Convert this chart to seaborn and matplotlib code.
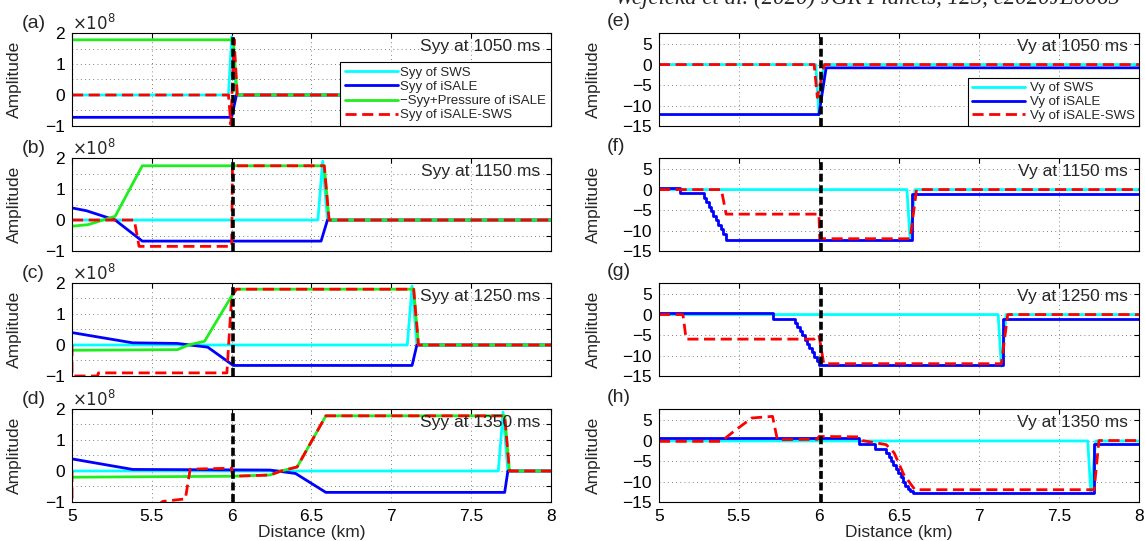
import numpy as np
import matplotlib
matplotlib.use('Agg')
import matplotlib.pyplot as plt
import seaborn as sns

# ---- Syy panels (units of 1e8) ----
times = ['1050', '1150', '1250', '1350']

sws_x_a = [5.0, 5.98, 6.0, 6.03, 8.0]
sws_y_a = [0, 0, 1.88, 0, 0]
isale_x_a = [5.0, 6.0, 6.03, 8.0]
isale_y_a = [-0.72, -0.72, 0, 0]
press_x_a = [5.0, 6.01, 6.035, 8.0]
press_y_a = [1.78, 1.78, 0, 0]
diff_x_a = [5.0, 5.98, 5.995, 6.015, 6.035, 8.0]
diff_y_a = [0, 0, -0.95, 1.8, 0, 0]

sws_x_b = [5.0, 6.54, 6.57, 6.6, 8.0]
sws_y_b = [0, 0, 1.9, 0, 0]
isale_x_b = [5.0, 5.09, 5.27, 5.44, 6.56, 6.6, 8.0]
isale_y_b = [0.39, 0.3, 0.0, -0.68, -0.68, 0, 0]
press_x_b = [5.0, 5.1, 5.27, 5.44, 6.58, 6.61, 8.0]
press_y_b = [-0.2, -0.15, 0.12, 1.75, 1.75, 0, 0]
diff_x_b = [5.0, 5.39, 5.42, 6.0, 6.005, 6.58, 6.61, 8.0]
diff_y_b = [0, 0, -0.85, -0.85, 1.75, 1.75, 0, 0]

sws_x_c = [5.0, 7.1, 7.13, 7.16, 8.0]
sws_y_c = [0, 0, 1.9, 0, 0]
isale_x_c = [5.0, 5.38, 5.66, 5.85, 6.01, 7.13, 7.16, 8.0]
isale_y_c = [0.4, 0.07, 0.05, -0.07, -0.66, -0.66, 0, 0]
press_x_c = [5.0, 5.66, 5.73, 5.83, 6.0, 6.03, 7.14, 7.17, 8.0]
press_y_c = [-0.17, -0.15, 0.0, 0.12, 1.58, 1.8, 1.8, 0, 0]
diff_x_c = [5.0, 5.0, 5.16, 5.165, 5.97, 6.0, 6.03, 7.14, 7.17, 8.0]
diff_y_c = [0, -1.0, -1.0, -0.9, -0.9, 1.58, 1.8, 1.8, 0, 0]

sws_x_d = [5.0, 7.67, 7.7, 7.73, 8.0]
sws_y_d = [0, 0, 1.9, 0, 0]
isale_x_d = [5.0, 5.38, 6.24, 6.4, 6.59, 7.71, 7.73, 8.0]
isale_y_d = [0.39, 0.05, 0.03, -0.08, -0.69, -0.69, 0, 0]
press_x_d = [5.0, 6.0, 6.24, 6.31, 6.41, 6.59, 7.71, 7.74, 8.0]
press_y_d = [-0.2, -0.17, -0.13, 0.0, 0.13, 1.78, 1.78, 0, 0]
diff_x_d = [5.0, 5.0, 5.55, 5.57, 5.71, 5.74, 6.0, 6.005, 6.24, 6.31, 6.41, 6.59, 7.71, 7.74, 8.0]
diff_y_d = [0, -1.05, -1.05, -0.98, -0.9, 0.06, 0.09, -0.17, -0.13, 0.0, 0.13, 1.78, 1.78, 0, 0]

# ---- Vy panels ----
vsws_x_e = [5.0, 5.98, 6.0, 6.03, 8.0]
vsws_y_e = [0, 0, -12.3, 0, 0]
visale_x_e = [5.0, 6.0, 6.045, 8.0]
visale_y_e = [-12.2, -12.2, -0.8, -0.8]
vdiff_x_e = [5.0, 5.97, 5.99, 6.035, 8.0]
vdiff_y_e = [0, 0, -8.0, 0, 0]

vsws_x_f = [5.0, 6.55, 6.57, 6.6, 8.0]
vsws_y_f = [0, 0, -12.4, 0, 0]
visale_x_f = [5.0, 5.13, 5.28, 5.295, 5.31, 5.325, 5.34, 5.355, 5.37, 5.385, 5.40, 5.42, 6.58, 8.0]
visale_y_f = [0.4, -0.9, -2.0, -3.1, -4.2, -5.3, -6.4, -7.5, -8.6, -9.7, -10.8, -12.3, -1.0, -1.0]
vdiff_x_f = [5.0, 5.39, 5.42, 6.0, 6.005, 6.57, 6.61, 8.0]
vdiff_y_f = [0, 0, -6.0, -6.0, -12.0, -12.0, 0, 0]

vsws_x_g = [5.0, 7.12, 7.14, 7.17, 8.0]
vsws_y_g = [0, 0, -12.6, 0, 0]
visale_x_g = [5.0, 5.71, 5.85, 5.865, 5.88, 5.895, 5.91, 5.925, 5.94, 5.955, 5.97, 5.985, 6.0, 7.15, 8.0]
visale_y_g = [0.3, -1.0, -2.0, -3.0, -4.1, -5.1, -6.1, -7.2, -8.2, -9.2, -10.3, -11.3, -12.3, -1.2, -1.2]
vdiff_x_g = [5.0, 5.15, 5.17, 5.97, 6.0, 6.03, 7.14, 7.18, 8.0]
vdiff_y_g = [0, 0, -6.0, -6.0, -5.0, -12.0, -12.0, 0, 0]

vsws_x_h = [5.0, 7.68, 7.7, 7.73, 8.0]
vsws_y_h = [-0.1, -0.1, -13.0, -0.1, -0.1]
visale_x_h = [5.0, 6.25, 6.35, 6.42, 6.435, 6.45, 6.465, 6.48, 6.495, 6.51, 6.525, 6.54, 6.555, 6.57, 6.59, 7.72, 8.0]
visale_y_h = [0.65, -0.8, -2.0, -3.0, -4.0, -5.0, -6.0, -7.0, -8.0, -9.0, -10.0, -11.0, -11.8, -12.4, -12.9, -0.8, -0.8]
vdiff_x_h = [5.0, 5.39, 5.47, 5.58, 5.71, 5.74, 5.99, 6.0, 6.25, 6.27, 6.42, 6.47, 6.53, 6.6, 7.72, 7.75, 8.0]
vdiff_y_h = [-0.2, -0.2, 2.3, 5.5, 5.9, 0.2, 0.3, 1.0, 0.9, 0.0, -1.0, -3.0, -8.3, -12.0, -12.0, 0.0, 0.0]

syy_sets = [
    (sws_x_a, sws_y_a, isale_x_a, isale_y_a, press_x_a, press_y_a, diff_x_a, diff_y_a),
    (sws_x_b, sws_y_b, isale_x_b, isale_y_b, press_x_b, press_y_b, diff_x_b, diff_y_b),
    (sws_x_c, sws_y_c, isale_x_c, isale_y_c, press_x_c, press_y_c, diff_x_c, diff_y_c),
    (sws_x_d, sws_y_d, isale_x_d, isale_y_d, press_x_d, press_y_d, diff_x_d, diff_y_d),
]
vy_sets = [
    (vsws_x_e, vsws_y_e, visale_x_e, visale_y_e, vdiff_x_e, vdiff_y_e),
    (vsws_x_f, vsws_y_f, visale_x_f, visale_y_f, vdiff_x_f, vdiff_y_f),
    (vsws_x_g, vsws_y_g, visale_x_g, visale_y_g, vdiff_x_g, vdiff_y_g),
    (vsws_x_h, vsws_y_h, visale_x_h, visale_y_h, vdiff_x_h, vdiff_y_h),
]

letters_left = ['(a)', '(b)', '(c)', '(d)']
letters_right = ['(e)', '(f)', '(g)', '(h)']
x_ticks = [5, 5.5, 6, 6.5, 7, 7.5, 8]
x_labels = ['5', '5.5', '6', '6.5', '7', '7.5', '8']

CYAN = '#00ffff'
BLUE = '#0000ff'
GREEN = '#1eee1e'
RED = '#ff0000'

sns.set_style('white')
plt.rcParams['font.family'] = ['Liberation Sans', 'DejaVu Sans']
plt.rcParams['axes.unicode_minus'] = True

fig = plt.figure(figsize=(11.45, 5.41), dpi=100)

bottoms = [0.7671, 0.5360, 0.3050, 0.0721]
height = 0.1719


def style_axes(ax, bottom_row):
    ax.set_xlim(5, 8)
    ax.set_xticks(x_ticks)
    ax.set_xticklabels(x_labels if bottom_row else [])
    ax.tick_params(direction='in', top=True, right=True, length=3.5, width=0.8,
                   labelsize=12.5, pad=5, colors='black')
    ax.grid(True, linestyle=(0, (1, 4)), color='0.35', lw=0.6)
    for s in ax.spines.values():
        s.set_color('black')
        s.set_linewidth(0.8)
    ax.axvline(6.01, color='black', lw=2.6, linestyle=(0, (2.2, 1.0)), zorder=5)
    if bottom_row:
        ax.set_xlabel('Distance (km)', fontsize=12.5, labelpad=1)


for i in range(4):
    # left: Syy
    ax = fig.add_axes([0.0629, bottoms[i], 0.4183, height])
    sx, sy, ix, iy, px, py, dx, dy = syy_sets[i]
    sns.lineplot(x=sx, y=sy, ax=ax, color=CYAN, lw=2, sort=False, estimator=None, legend=False)
    sns.lineplot(x=ix, y=iy, ax=ax, color=BLUE, lw=2, sort=False, estimator=None, legend=False)
    sns.lineplot(x=px, y=py, ax=ax, color=GREEN, lw=2, sort=False, estimator=None, legend=False)
    sns.lineplot(x=dx, y=dy, ax=ax, color=RED, lw=2, linestyle=(0, (4, 2)), sort=False,
                 estimator=None, legend=False)
    ax.set_ylim(-1, 2)
    ax.set_yticks([-1, -0.5, 0, 0.5, 1, 1.5, 2])
    ax.set_yticklabels(['\u22121', '', '0', '', '1', '', '2'])
    style_axes(ax, i == 3)
    ax.set_ylabel('Amplitude', fontsize=12.5)
    ax.yaxis.set_label_coords(-0.105, 0.5)
    ax.text(0.977, 0.86, 'Syy at ' + times[i] + ' ms', transform=ax.transAxes,
            ha='right', va='center', fontsize=12.5)
    ax.text(-0.105, 1.1, letters_left[i], transform=ax.transAxes, ha='left', va='center', fontsize=14)
    ax.text(0.0, 1.11, r'$\times10^{8}$', transform=ax.transAxes, ha='left', va='center', fontsize=12)
    if i == 0:
        lines = ax.get_lines()[:4]
        leg = ax.legend(lines, ['Syy of SWS', 'Syy of iSALE', '\u2212Syy+Pressure of iSALE',
                                'Syy of iSALE-SWS'],
                        loc='lower right', bbox_to_anchor=(1, 0), borderaxespad=0,
                        fontsize=9.5, handlelength=4, labelspacing=0.15, handletextpad=0.2,
                        borderpad=0.35, fancybox=False, framealpha=1, edgecolor='black')
        leg.get_frame().set_linewidth(0.8)
        leg.set_zorder(10)

    # right: Vy
    ax = fig.add_axes([0.5755, bottoms[i], 0.4192, height])
    sx, sy, ix, iy, dx, dy = vy_sets[i]
    sns.lineplot(x=sx, y=sy, ax=ax, color=CYAN, lw=2, sort=False, estimator=None, legend=False)
    sns.lineplot(x=ix, y=iy, ax=ax, color=BLUE, lw=2, drawstyle='steps-post' if i > 0 else 'default',
                 sort=False, estimator=None, legend=False)
    sns.lineplot(x=dx, y=dy, ax=ax, color=RED, lw=2, linestyle=(0, (4, 2)), sort=False,
                 estimator=None, legend=False)
    ax.set_ylim(-15, 7.7)
    ax.set_yticks([-15, -10, -5, 0, 5])
    ax.set_yticklabels(['\u221215', '\u221210', '\u22125', '0', '5'])
    style_axes(ax, i == 3)
    ax.set_ylabel('Amplitude', fontsize=12.5)
    ax.yaxis.set_label_coords(-0.12, 0.5)
    ax.text(0.977, 0.86, 'Vy at ' + times[i] + ' ms', transform=ax.transAxes,
            ha='right', va='center', fontsize=12.5)
    ax.text(-0.108, 1.12, letters_right[i], transform=ax.transAxes, ha='left', va='center', fontsize=14)
    if i == 0:
        lines = ax.get_lines()[:3]
        leg = ax.legend(lines, ['Vy of SWS', 'Vy of iSALE', 'Vy of iSALE-SWS'],
                        loc='lower right', bbox_to_anchor=(1, 0), borderaxespad=0,
                        fontsize=9.5, handlelength=4, labelspacing=0.12, handletextpad=0.4,
                        borderpad=0.3, fancybox=False, framealpha=1, edgecolor='black')
        leg.get_frame().set_linewidth(0.8)
        leg.set_zorder(10)

# running header of the source page, cut at the top edge as in the original
fig.text(0.537, 0.992, 'Wejcicka et al. (2020) JGR Planets, 125, e2020JE0065', ha='left',
         va='baseline', fontsize=16.5, family=['Liberation Serif', 'DejaVu Serif'], style='italic')

fig.savefig('out.png', dpi=100)
